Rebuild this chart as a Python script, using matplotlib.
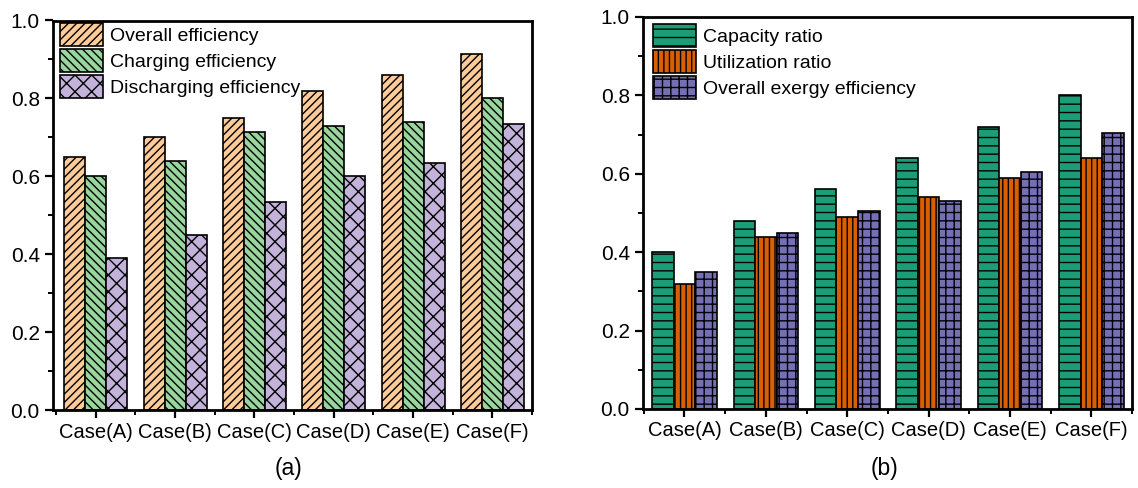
import numpy as np
import matplotlib
matplotlib.use('Agg')
import matplotlib.pyplot as plt
from matplotlib.ticker import MultipleLocator, FixedLocator, FormatStrFormatter

plt.rcParams['font.family'] = ['Liberation Sans', 'DejaVu Sans']
plt.rcParams['hatch.linewidth'] = 1.0

# ---------- data ----------
cases = ['Case(A)', 'Case(B)', 'Case(C)', 'Case(D)', 'Case(E)', 'Case(F)']

overall_eff = [0.65, 0.70, 0.75, 0.82, 0.86, 0.915]
charging_eff = [0.60, 0.64, 0.715, 0.73, 0.74, 0.80]
discharging_eff = [0.39, 0.45, 0.535, 0.60, 0.635, 0.735]

capacity_ratio = [0.40, 0.48, 0.56, 0.64, 0.72, 0.80]
utilization_ratio = [0.32, 0.44, 0.49, 0.54, 0.59, 0.64]
exergy_eff = [0.35, 0.45, 0.505, 0.53, 0.605, 0.705]

left_labels = ['Overall efficiency', 'Charging efficiency', 'Discharging efficiency']
right_labels = ['Capacity ratio', 'Utilization ratio', 'Overall exergy efficiency']

# ---------- figure ----------
fig = plt.figure(figsize=(11.38, 4.88), dpi=100)
W, H = 1138, 488
ax1 = fig.add_axes([53 / W, 1 - 410 / H, (532 - 53) / W, (410 - 20.5) / H])
ax2 = fig.add_axes([643 / W, 1 - 409 / H, (1132 - 643) / W, (409 - 17) / H])

x = np.arange(len(cases))
bw = 0.265


def draw(ax, series, labels, colors, hatches, xlim, leg_anchor):
    for i, (vals, lab, c, h) in enumerate(zip(series, labels, colors, hatches)):
        ax.bar(x + (i - 1) * bw, vals, bw, color=c, edgecolor='black',
               linewidth=1.2, hatch=h, label=lab, zorder=2)
    ax.set_xlim(*xlim)
    ax.set_ylim(0, 1.0)
    ax.yaxis.set_major_locator(MultipleLocator(0.2))
    ax.yaxis.set_minor_locator(MultipleLocator(0.1))
    ax.yaxis.set_major_formatter(FormatStrFormatter('%.1f'))
    ax.set_xticks(x)
    ax.set_xticklabels(cases)
    ax.xaxis.set_minor_locator(FixedLocator(np.arange(-0.5, len(cases), 1.0)))
    ax.tick_params(axis='both', which='major', direction='out', length=6,
                   width=1.6, labelsize=15)
    ax.tick_params(axis='x', which='major', labelsize=14.5, pad=3)
    ax.tick_params(axis='both', which='minor', direction='out', length=3.5,
                   width=1.4)
    for sp in ax.spines.values():
        sp.set_linewidth(2.0)
    leg = ax.legend(loc='upper left', bbox_to_anchor=leg_anchor, frameon=False,
                    fontsize=14, handlelength=2.2, handleheight=1.45,
                    handletextpad=0.36, labelspacing=0.14, borderpad=0.0,
                    borderaxespad=0.0)
    leg.set_zorder(5)


draw(ax1, [overall_eff, charging_eff, discharging_eff], left_labels,
     ['#FFCC99', '#99D69E', '#C3B3DA'], ['////', '\\\\\\\\', 'xx'], (-0.54, 5.5),
     (7 / 479, 1 - 2.5 / 389.5))
draw(ax2, [capacity_ratio, utilization_ratio, exergy_eff], right_labels,
     ['#1B9E77', '#D95F02', '#7570B3'], ['--', '|||', '++'], (-0.51, 5.5),
     (10 / 489, 1 - 7 / 392))

fig.text(289 / W, 1 - 468 / H, '(a)', fontsize=16.5, ha='center', va='center')
fig.text(885 / W, 1 - 468 / H, '(b)', fontsize=16.5, ha='center', va='center')

fig.savefig('out.png', dpi=100)
